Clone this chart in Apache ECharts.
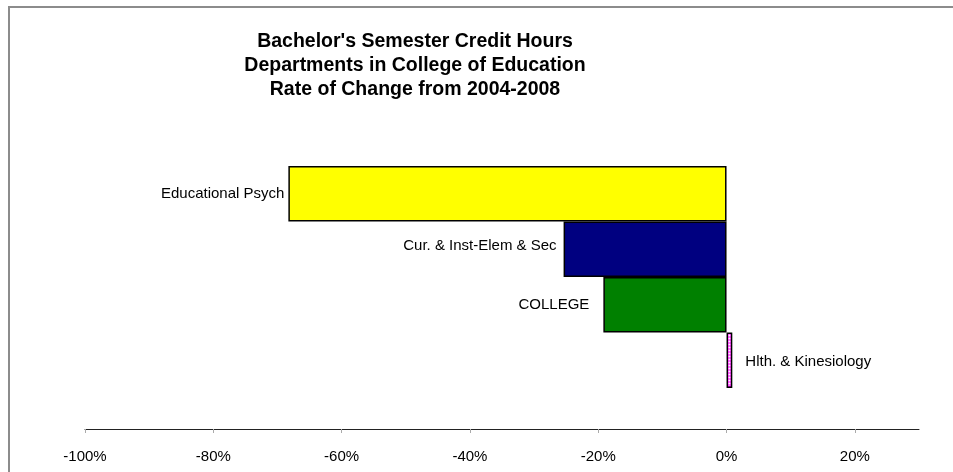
<!DOCTYPE html>
<html>
<head>
<meta charset="utf-8">
<script src="https://cdn.jsdelivr.net/npm/echarts@6/dist/echarts.min.js"></script>
<style>
  html, body { margin: 0; padding: 0; background: #fff; }
  #main { width: 953px; height: 472px; }
</style>
</head>
<body>
<div id="main"></div>
<script>
  // departments, top to bottom
  const departments = ['Educational Psych', 'Cur. & Inst-Elem & Sec', 'COLLEGE', 'Hlth. & Kinesiology']
  // rate of change 2004-2008, in percent
  const rateOfChange = [-68.3, -25.4, -19.2, 0.9]
  const tickValues = [-100, -80, -60, -40, -20, 0, 20]

  const barColors = ['#ffff00', '#000080', '#008000', '#ff00ff']
  const labelGap = [4, 7, 14, 13]
  const labelShift = [0, -3, 0, 2]

  let myChart = echarts.init(document.getElementById('main'))

  const barData = rateOfChange.map((v, i) => ({
    value: v,
    itemStyle: { color: barColors[i] },
    label: {
      position: v < 0 ? 'left' : 'right',
      distance: labelGap[i],
      offset: [0, labelShift[i]]
    }
  }))

  myChart.setOption({
    animation: false,
    backgroundColor: '#ffffff',
    textStyle: { fontFamily: 'Liberation Sans' },
    graphic: [{
      id: 'frame',
      type: 'rect',
      shape: { x: 9, y: 7, width: 1200, height: 600 },
      style: { fill: 'none', stroke: '#8c8c8c', lineWidth: 2 }
    }],
    title: {
      text: "Bachelor's Semester Credit Hours\nDepartments in College of Education\nRate of Change from 2004-2008",
      left: 415,
      textAlign: 'center',
      top: 30,
      padding: 0,
      textStyle: {
        fontFamily: 'Liberation Sans',
        fontSize: 19.5,
        fontWeight: 'bold',
        color: '#000',
        lineHeight: 24
      }
    },
    grid: {
      left: 85,
      right: 34,
      top: 166,
      bottom: 84
    },
    xAxis: {
      type: 'value',
      min: -100,
      max: 30,
      interval: 20,
      offset: 41,
      splitLine: { show: false },
      axisLine: { show: true, lineStyle: { color: '#222', width: 1 } },
      axisTick: {
        show: true,
        length: 4,
        customValues: tickValues,
        lineStyle: { color: '#aaa' }
      },
      axisLabel: {
        customValues: tickValues,
        formatter: '{value}%',
        margin: 20,
        color: '#000',
        fontSize: 15,
        fontFamily: 'Liberation Sans'
      }
    },
    yAxis: {
      type: 'category',
      data: departments,
      inverse: true,
      show: false
    },
    series: [{
      type: 'bar',
      data: barData,
      barWidth: '100%',
      barCategoryGap: 0,
      itemStyle: {
        borderColor: '#000',
        borderWidth: 1.5
      },
      label: {
        show: true,
        formatter: '{b}',
        color: '#000',
        fontSize: 15,
        fontFamily: 'Liberation Sans'
      }
    }]
  });

  // white dashed stripe down the middle of the thin magenta bar
  let last = departments.length - 1
  let mid = myChart.convertToPixel({ seriesIndex: 0 }, [rateOfChange[last] / 2, last])
  let prev = myChart.convertToPixel({ seriesIndex: 0 }, [rateOfChange[last] / 2, last - 1])
  let band = mid[1] - prev[1]
  myChart.setOption({
    graphic: [{
      id: 'stripe',
      type: 'line',
      shape: { x1: mid[0], y1: mid[1] - band / 2 + 2, x2: mid[0], y2: mid[1] + band / 2 - 2 },
      style: { stroke: '#ffffff', lineWidth: 2, lineDash: [2, 1] },
      z: 10
    }]
  })
</script>
</body>
</html>
